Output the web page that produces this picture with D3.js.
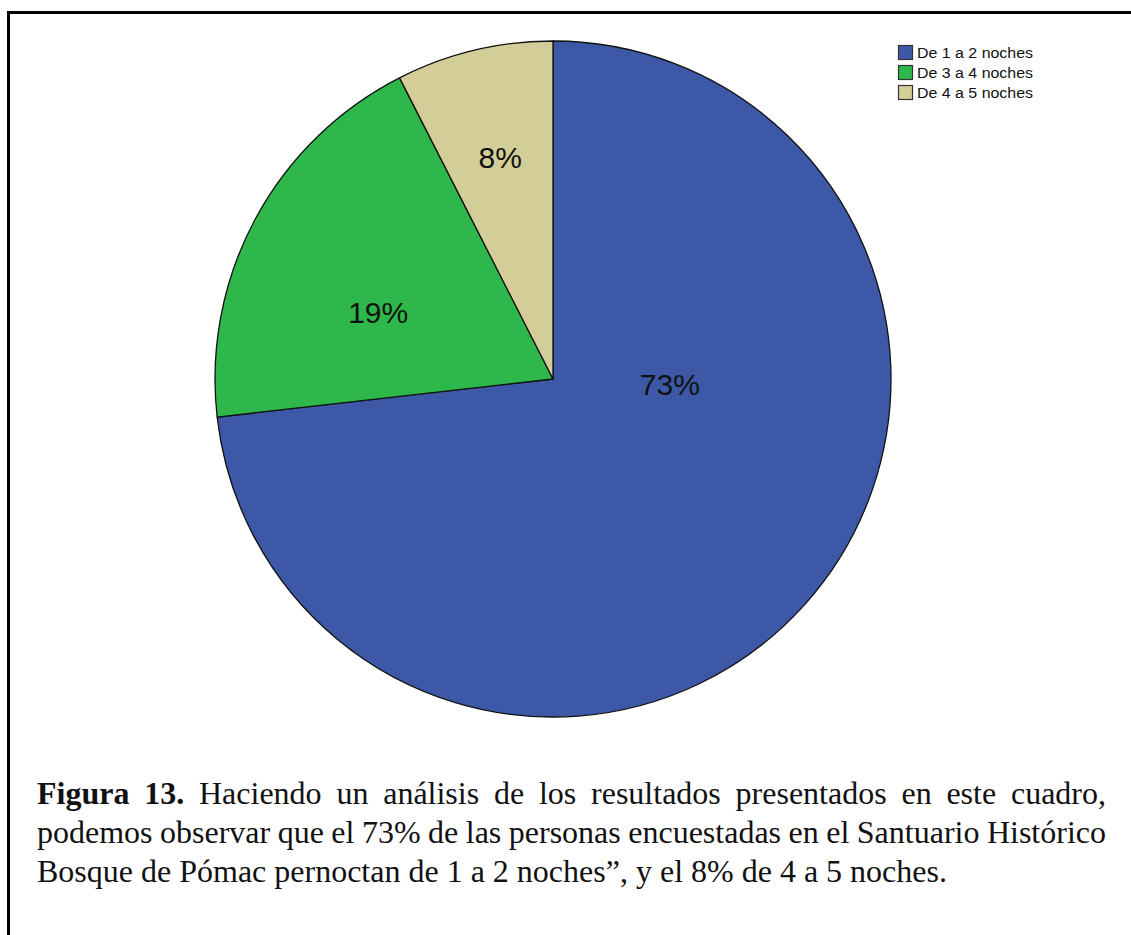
<!DOCTYPE html>
<html><head><meta charset="utf-8">
<script src="https://cdn.jsdelivr.net/npm/d3@7"></script>
<style>body{margin:0;background:#fff;}svg{display:block;} .cap{font-family:"Liberation Serif","Times New Roman",serif;}</style>
</head><body>
<script>
// ---- data ----
const categories = ["De 1 a 2 noches", "De 3 a 4 noches", "De 4 a 5 noches"];
const values = [73.2, 19.3, 7.5];
const valueLabels = ["73%", "19%", "8%"];
const colors = ["#3e58a8", "#2eb74a", "#d3ce97"];
const captionBold = ["Figura", "13."];
const captionLines = [
  "Haciendo un análisis de los resultados presentados en este cuadro,",
  "podemos observar que el 73% de las personas encuestadas en el Santuario Histórico",
  "Bosque de Pómac pernoctan de 1 a 2 noches”, y el 8% de 4 a 5 noches."
];

// ---- drawing ----
const W = 1131, H = 935;
const svg = d3.select("body").append("svg").attr("width", W).attr("height", H);
svg.append("rect").attr("width", W).attr("height", H).attr("fill", "#fff");
svg.append("path").attr("d", `M8.5,${H} V12.5 H${W}`).attr("fill", "none")
  .attr("stroke", "#000").attr("stroke-width", 3);

const cx = 553, cy = 379, R = 338;
const pie = d3.pie().sort(null).value(d => d)(values);
const arc = d3.arc().innerRadius(0).outerRadius(R);
const g = svg.append("g").attr("transform", `translate(${cx},${cy})`);
g.selectAll("path").data(pie).join("path")
  .attr("d", arc).attr("fill", (d, i) => colors[i])
  .attr("stroke", "#111").attr("stroke-width", 1.3).attr("stroke-linejoin", "round");

// label placement: angle (deg, clockwise from top) and fraction of radius
const labelPlace = [[92.4, 0.346], [291, 0.554], [346.6, 0.675]];
g.selectAll("text.lbl").data(pie).join("text").attr("class", "lbl")
  .attr("transform", (d, i) => {
    const p = d3.pointRadial(labelPlace[i][0] * Math.PI / 180, labelPlace[i][1] * R);
    return `translate(${p[0]},${p[1]})`;
  })
  .attr("text-anchor", "middle").attr("dy", "0.36em")
  .style("font-family", "Arial, 'Liberation Sans', sans-serif").style("font-size", "30px")
  .attr("fill", "#111")
  .text((d, i) => valueLabels[i]);

// legend
const leg = svg.append("g").attr("transform", "translate(898,53)");
categories.forEach((c, i) => {
  const row = leg.append("g").attr("transform", `translate(0,${i * 20})`);
  row.append("rect").attr("x", 0.5).attr("y", -7.5).attr("width", 14).attr("height", 14)
    .attr("fill", colors[i]).attr("stroke", "#333").attr("stroke-width", 1.2);
  row.append("text").attr("x", 19).attr("dy", "0.36em")
    .style("font-family", "Arial, 'Liberation Sans', sans-serif").style("font-size", "14px")
    .attr("textLength", 116).attr("lengthAdjust", "spacingAndGlyphs")
    .attr("fill", "#111").text(c);
});

// caption (justified)
const capX = 37, capRight = 1106, baselines = [804, 843, 882];
const fs = 32;
const capG = svg.append("g").attr("class", "cap").attr("transform", `translate(${capX},0)`);
const target = capRight - capX;

captionLines.forEach((line, li) => {
  let words = line.split(" ").map(w => ({ w, bold: false }));
  if (li === 0) words = captionBold.map(w => ({ w, bold: true })).concat(words);
  const nodes = words.map(o => {
    const t = capG.append("text").attr("y", baselines[li])
      .style("font-size", fs + "px")
      .style("font-weight", o.bold ? "bold" : "normal").attr("fill", "#111").text(o.w);
    return { t, len: t.node().getComputedTextLength() };
  });
  const total = d3.sum(nodes, n => n.len);
  const justify = li < captionLines.length - 1;
  const spaceW = fs * 0.25;
  const gap = justify ? (target - total) / (nodes.length - 1) : spaceW;
  let x = 0;
  nodes.forEach(n => { n.t.attr("x", x); x += n.len + gap; });
});
</script>
</body></html>
